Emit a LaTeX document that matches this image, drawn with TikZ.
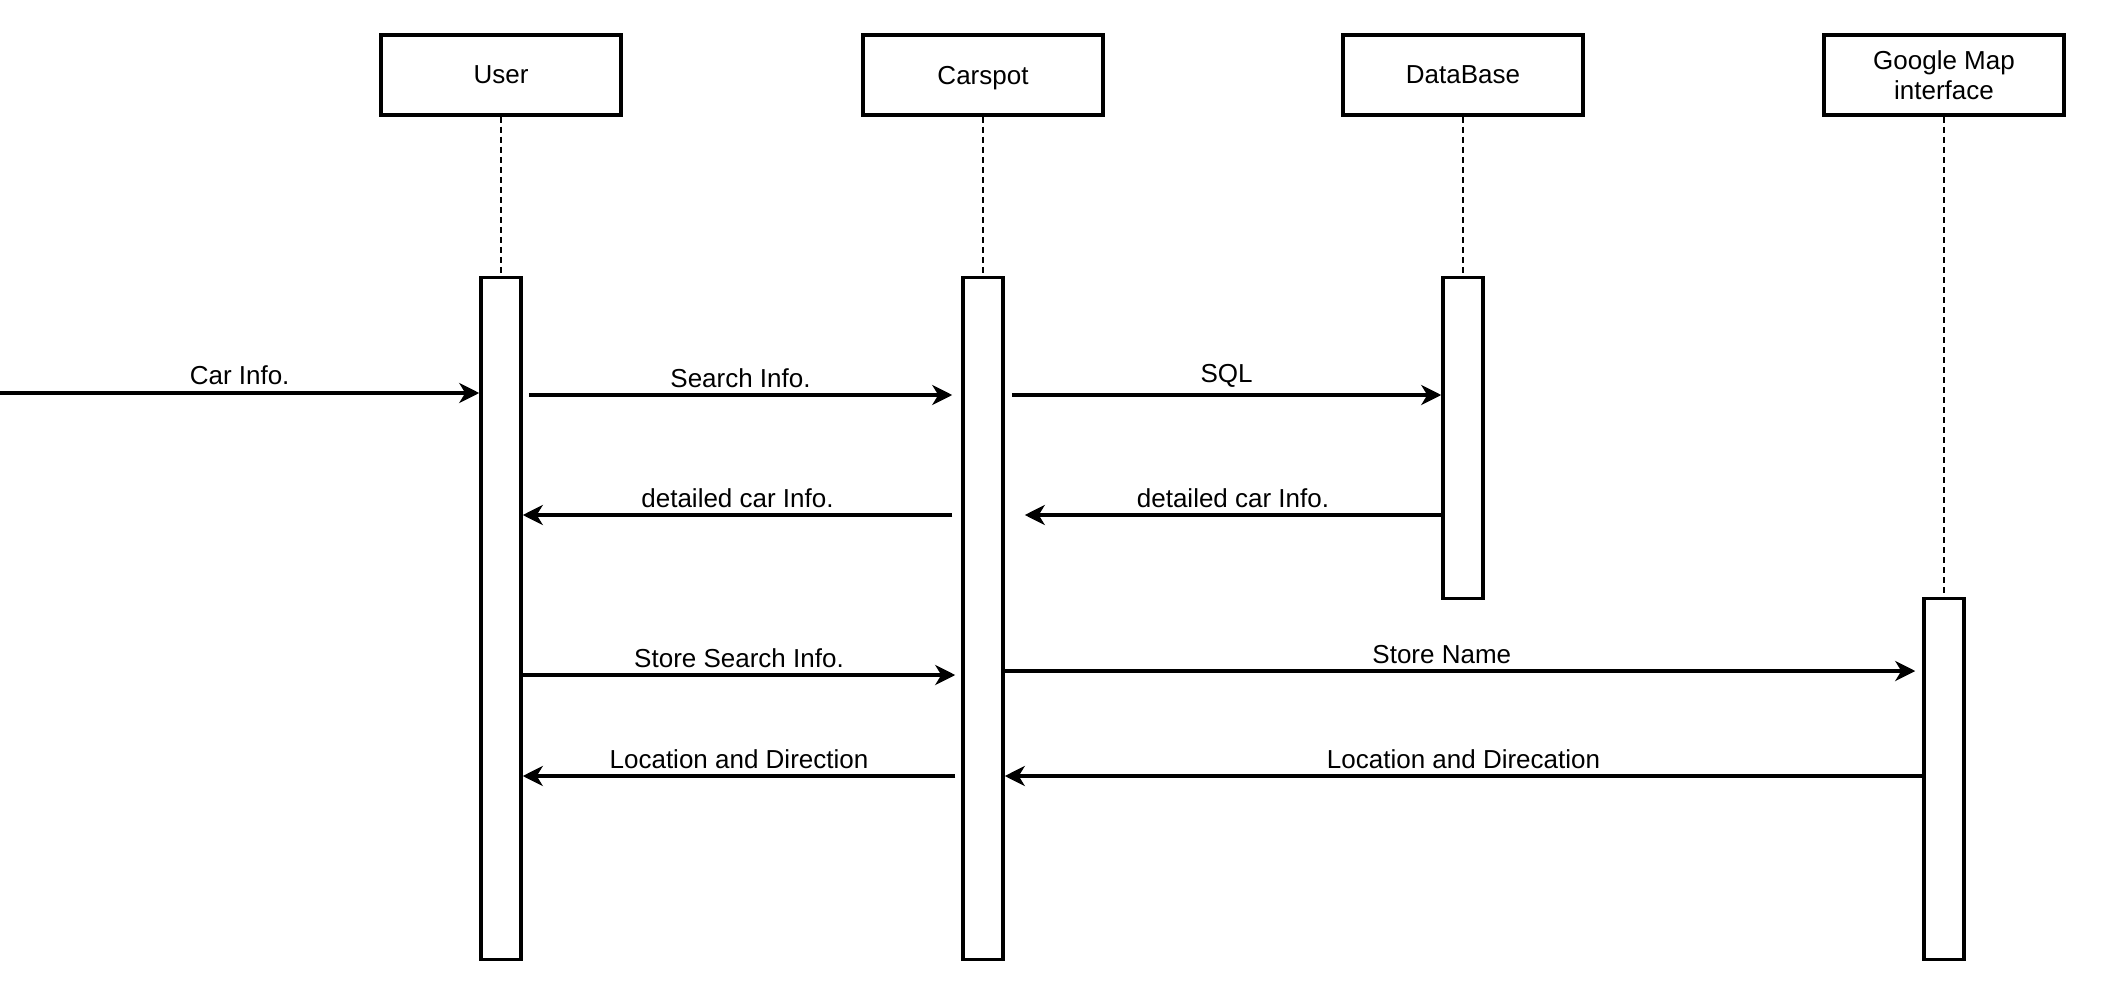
\documentclass[tikz,border=0pt]{standalone}
\usepackage{fontspec}
\setmainfont{Liberation Sans}
\usetikzlibrary{positioning, arrows.meta}

\tikzstyle{obj}=[%
      rectangle, draw=black, line width=1.75pt, fill=white,
      minimum width=120pt, minimum height=40pt, inner sep=2pt, align=center,
      text depth=0pt, font=\fontsize{13}{15}\selectfont
]
\tikzstyle{act}=[%
      rectangle, draw=black, line width=1.75pt, fill=white,
      minimum width=20pt, inner sep=0pt
]
\tikzstyle{life}=[%
      line width=1.2pt, dash pattern=on 3pt off 2pt
]
\tikzstyle{msg}=[%
      line width=1.75pt, -{Stealth[length=10pt, width=10pt, inset=3pt]}
]
\tikzstyle{lbl}=[%
      above, inner sep=3pt, font=\fontsize{13}{15}\selectfont
]

\begin{document}
\begin{tikzpicture}[x=0.5pt, y=-0.5pt, node distance=10pt]
    \useasboundingbox (0,0) rectangle (2114,1006);

    % objects
    \node[obj] (user)   at (501,75)  {User};
    \node[obj] (carspot) at (983,75) {Carspot};
    \node[obj] (db)     at (1463,75) {DataBase};
    \node[obj] (gmap)   at (1944,75) {Google Map\\interface};

    % activation bars
    \node[act, minimum height=341pt, anchor=north] (ubar) [below = 79.5pt of user]    {};
    \node[act, minimum height=341pt, anchor=north] (cbar) [below = 79.5pt of carspot] {};
    \node[act, minimum height=160.5pt, anchor=north] (dbar) [below = 79.5pt of db]    {};
    \node[act, minimum height=180.5pt, anchor=north] (gbar) [below = 240pt of gmap]   {};

    % lifelines
    \draw[life] (user) -- (ubar);
    \draw[life] (carspot) -- (cbar);
    \draw[life] (db) -- (dbar);
    \draw[life] (gmap) -- (gbar);

    \coordinate (cin) at (0,393);

    % messages
    \path (cin) edge[msg] node[lbl] {Car Info.} (ubar.west |- cin)
          ([xshift=3pt]ubar.east |- 0,395) edge[msg] node[lbl] {Search Info.} ([xshift=-4.5pt]cbar.west |- 0,395)
          ([xshift=3.5pt]cbar.east |- 0,395) edge[msg] node[lbl] {SQL} (dbar.west |- 0,395)
          ([xshift=-4.5pt]cbar.west |- 0,515) edge[msg] node[lbl] {detailed car Info.} (ubar.east |- 0,515)
          (dbar.west |- 0,515) edge[msg] node[lbl] {detailed car Info.} ([xshift=10pt]cbar.east |- 0,515)
          (ubar.east |- 0,675) edge[msg] node[lbl] {Store Search Info.} ([xshift=-3pt]cbar.west |- 0,675)
          (cbar.east |- 0,671) edge[msg] node[lbl, pos=0.48] {Store Name} ([xshift=-3.5pt]gbar.west |- 0,671)
          ([xshift=-3pt]cbar.west |- 0,776) edge[msg] node[lbl] {Location and Direction} (ubar.east |- 0,776)
          (gbar.west |- 0,776) edge[msg] node[lbl] {Location and Direcation} (cbar.east |- 0,776)
    ;

\end{tikzpicture}
\end{document}
